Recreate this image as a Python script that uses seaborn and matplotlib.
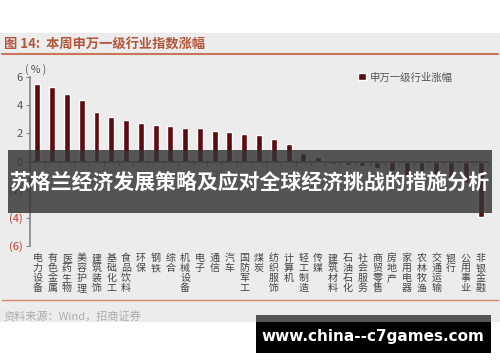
import numpy as np
import pandas as pd
import seaborn as sns
import matplotlib.pyplot as plt
from matplotlib.patches import Rectangle
from matplotlib.transforms import blended_transform_factory

categories = ["电力设备", "有色金属", "医药生物", "美容护理", "建筑装饰", "基础化工",
              "食品饮料", "环保", "钢铁", "综合", "机械设备", "电子", "通信", "汽车",
              "国防军工", "煤炭", "纺织服饰", "计算机", "轻工制造", "传媒", "建筑材料",
              "石油石化", "社会服务", "商贸零售", "房地产", "家用电器", "农林牧渔",
              "交通运输", "银行", "公用事业", "非银金融"]
changes = [5.52, 5.31, 4.83, 4.36, 3.50, 3.17, 2.98, 2.74, 2.60, 2.55, 2.40, 2.38,
           2.14, 2.12, 1.98, 1.90, 1.62, 1.26, 0.64, 0.29, -0.17, -0.24, -0.29,
           -0.43, -0.67, -1.00, -1.10, -1.20, -1.35, -1.50, -3.93]
yticks = [6, 4, 2, 0, -2, -4, -6]

sns.set_theme(style="white")
plt.rcParams['font.family'] = ['Noto Sans CJK SC', 'DejaVu Sans']

df = pd.DataFrame({"行业": categories, "涨幅": changes})

W, H = 500, 362
fig = plt.figure(figsize=(W / 100, H / 100), dpi=100)
fig.patch.set_facecolor("white")

def fx(px):
    return px / W

def fy(py):
    return 1 - py / H

# grey report background (below the axes)
fig.patches.append(Rectangle((0, fy(322)), 1, fy(33) - fy(322), transform=fig.transFigure,
                             facecolor="#ececec", edgecolor="none", zorder=-1))
fig.text(fx(4), fy(45), "图 14:  本周申万一级行业指数涨幅", color="#b2573c",
         fontsize=9.5, fontweight="bold", va="center", ha="left")
fig.add_artist(plt.Line2D([fx(2), fx(498)], [fy(54), fy(54)], color="#c8765a", lw=1.5,
                          transform=fig.transFigure))
fig.add_artist(plt.Line2D([fx(2), fx(498)], [fy(300), fy(300)], color="#d8866c", lw=1.0,
                          transform=fig.transFigure))
fig.text(fx(3), fy(316), "资料来源：Wind，招商证券", color="#ababab", fontsize=8,
         va="center", ha="left")

ax = fig.add_axes([fx(30), fy(245.7), fx(488) - fx(30), fy(77.3) - fy(245.7)])
ax.set_facecolor("none")
sns.barplot(data=df, x="行业", y="涨幅", color="#5e0b10", width=0.4, ax=ax,
            saturation=1, label="申万一级行业涨幅")
ax.set_xlim(-0.5, len(categories) - 0.5)
ax.set_ylim(-6, 6)
ax.set_yticks(yticks)
ax.set_yticklabels([str(v) if v >= 0 else f"({-v})" for v in yticks], fontsize=8)
for lab, v in zip(ax.get_yticklabels(), yticks):
    lab.set_color("#555555" if v >= 0 else "#c0392b")
ax.tick_params(axis="y", length=3, width=0.8, color="#888888", pad=2, left=True)
ax.set_xlabel("")
ax.set_ylabel("")

# zero axis with tick marks between categories
for s in ["top", "right"]:
    ax.spines[s].set_visible(False)
ax.spines["left"].set_color("#888888")
ax.spines["bottom"].set_position(("data", 0))
ax.spines["bottom"].set_color("#888888")
ax.set_xticks(np.arange(len(categories) + 1) - 0.5)
ax.set_xticklabels([])
ax.tick_params(axis="x", bottom=True, length=3, width=0.6, color="#888888", direction="out")

trans = blended_transform_factory(ax.transData, ax.transAxes)
for i, name in enumerate(categories):
    ax.text(i, -0.045, "\n".join(name), transform=trans, ha="center", va="top",
            fontsize=7.2, linespacing=1.0, color="#444444")

ax.text(-0.85, 6.55, "( % )", fontsize=7.5, color="#555555", ha="left", va="center")
ax.legend(loc="center left", bbox_to_anchor=(0.717, 1.0), frameon=False, fontsize=7.5,
          borderpad=0, borderaxespad=0, handlelength=0.7, handleheight=0.7,
          handletextpad=0.4, labelcolor="#555555")

# overlay banner
fig.patches.append(Rectangle((fx(8), fy(213)), fx(492) - fx(8), fy(150) - fy(213),
                             transform=fig.transFigure, facecolor="#333333", alpha=0.82,
                             edgecolor="none", zorder=5))
fig.text(0.5, fy(182), "苏格兰经济发展策略及应对全球经济挑战的措施分析", color="white",
         fontsize=15, fontweight="bold", ha="center", va="center", zorder=6)

# watermark
fig.patches.append(Rectangle((fx(256), fy(322)), fx(491) - fx(256), fy(315) - fy(322),
                             transform=fig.transFigure, facecolor="#555555",
                             edgecolor="none", zorder=5))
fig.patches.append(Rectangle((fx(256), fy(353)), fx(491) - fx(256), fy(322) - fy(353),
                             transform=fig.transFigure, facecolor="black",
                             edgecolor="none", zorder=5))
fig.text(fx(373), fy(336), "www.china--c7games.com", color="white", fontsize=11,
         fontweight="bold", ha="center", va="center", zorder=6,
         family=["DejaVu Sans"])

fig.savefig("out.png", dpi=100)
